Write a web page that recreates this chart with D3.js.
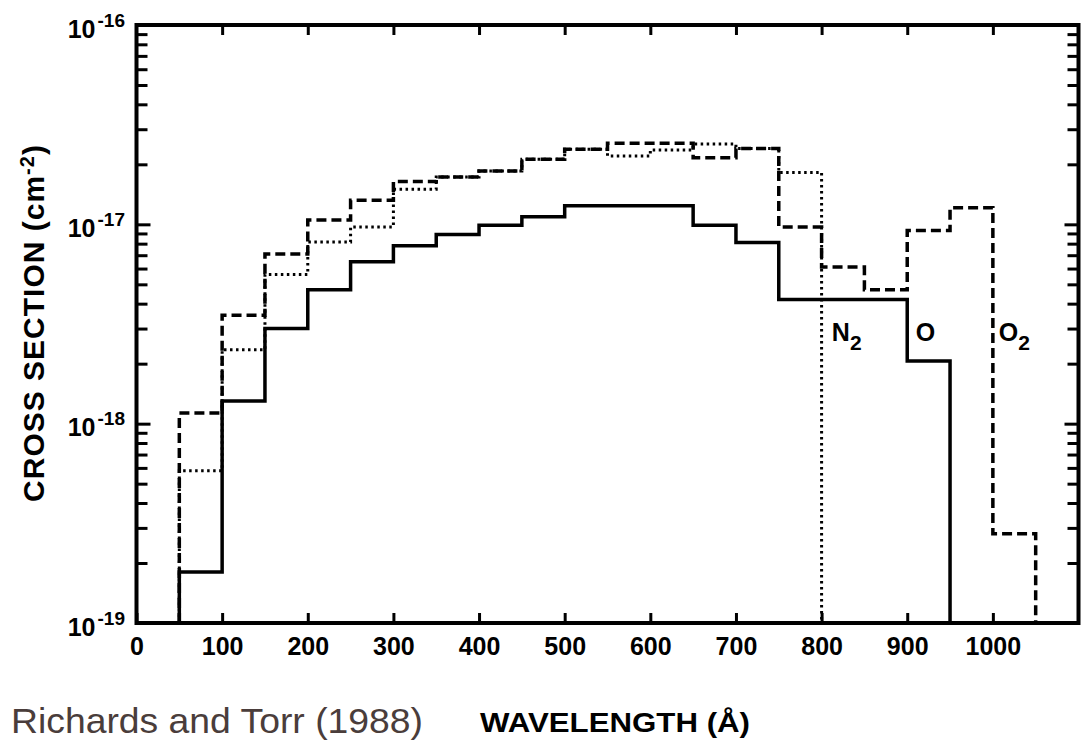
<!DOCTYPE html>
<html><head><meta charset="utf-8">
<script src="https://cdn.jsdelivr.net/npm/d3@7"></script>
<style>body{margin:0;background:#fff}svg{display:block}</style>
</head><body>
<svg id="chart" width="1090" height="742"></svg>
<script>
// ---- data ----
const xTickValues = [0,100,200,300,400,500,600,700,800,900,1000];
const yDecades = [1e-19,1e-18,1e-17,1e-16];
const yExponentLabels = ["-19","-18","-17","-16"];
const binWidth = 50;
// O (solid)
const oBinStarts = [50,100,150,200,250,300,350,400,450,500,550,600,650,700,750,800,850,900];
const oValues = [1.8e-19,1.3e-18,3.0e-18,4.7e-18,6.5e-18,7.8e-18,8.9e-18,9.9e-18,1.09e-17,1.24e-17,1.24e-17,1.24e-17,9.9e-18,8.1e-18,4.2e-18,4.2e-18,4.2e-18,2.06e-18];
// O2 (dashed)
const o2BinStarts = [50,100,150,200,250,300,350,400,450,500,550,600,650,700,750,800,850,900,950,1000];
const o2Values = [1.13e-18,3.5e-18,7.1e-18,1.05e-17,1.32e-17,1.64e-17,1.73e-17,1.85e-17,2.12e-17,2.38e-17,2.55e-17,2.55e-17,2.16e-17,2.4e-17,9.7e-18,6.1e-18,4.7e-18,9.3e-18,1.21e-17,2.8e-19];
// N2 (dotted)
const n2BinStarts = [50,100,150,200,250,300,350,400,450,500,550,600,650,700,750];
const n2Values = [5.8e-19,2.35e-18,5.6e-18,8.15e-18,9.7e-18,1.5e-17,1.73e-17,1.85e-17,2.12e-17,2.38e-17,2.2e-17,2.36e-17,2.53e-17,2.4e-17,1.82e-17];

const svg = d3.select("#chart");
const x = d3.scaleLinear().domain([0,1100]).range([136.5,1078.5]);
const y = d3.scaleLog().domain([1e-19,1e-16]).range([623,25]);
const FONT = "'Liberation Sans', Arial, sans-serif";

// frame
const [x0,x1] = x.range(), [yb,yt] = y.range();
svg.append("rect").attr("x",x0).attr("y",yt).attr("width",x1-x0).attr("height",yb-yt)
  .attr("fill","none").attr("stroke","#000").attr("stroke-width",4);

function styleAxis(g){
  g.select(".domain").remove();
  g.selectAll(".tick line").attr("stroke","#000").attr("stroke-width",3);
}
// bottom axis
svg.append("g").attr("transform",`translate(0,${yb})`)
  .call(d3.axisBottom(x).tickValues(xTickValues).tickSizeInner(-10).tickSizeOuter(0).tickPadding(14).tickFormat(d3.format("d")))
  .call(styleAxis)
  .call(g=>g.selectAll("text").attr("font-family",FONT).attr("font-weight","bold").attr("font-size",25).attr("fill","#000"));
// top axis
svg.append("g").attr("transform",`translate(0,${yt})`)
  .call(d3.axisTop(x).tickValues(xTickValues.slice(1)).tickSizeInner(-10).tickSizeOuter(0).tickFormat(()=>""))
  .call(styleAxis);

const minorTicks = y.ticks().filter(v=>!yDecades.some(d=>Math.abs(Math.log10(v)-Math.log10(d))<1e-6));
// left axis
svg.append("g").attr("transform",`translate(${x0},0)`)
  .call(d3.axisLeft(y).tickValues(minorTicks).tickSizeInner(-11).tickSizeOuter(0).tickFormat(()=>""))
  .call(styleAxis);
const leftMajor = svg.append("g").attr("transform",`translate(${x0},0)`)
  .call(d3.axisLeft(y).tickValues(yDecades).tickSizeInner(-14).tickSizeOuter(0).tickFormat(()=>""))
  .call(styleAxis);
leftMajor.selectAll(".tick").each(function(d){
  const t = d3.select(this);
  t.select("text").remove();
  t.append("text").attr("x",-41).attr("y",12).attr("text-anchor","end")
    .attr("font-family",FONT).attr("font-weight","bold").attr("font-size",25).attr("fill","#000").text("10");
  t.append("text").attr("x",-39).attr("y",1).attr("text-anchor","start")
    .attr("font-family",FONT).attr("font-weight","bold").attr("font-size",19).attr("fill","#000").text(yExponentLabels[yDecades.indexOf(d)]);
});
// right axis
svg.append("g").attr("transform",`translate(${x1},0)`)
  .call(d3.axisRight(y).tickValues(minorTicks).tickSizeInner(-11).tickSizeOuter(0).tickFormat(()=>""))
  .call(styleAxis);
svg.append("g").attr("transform",`translate(${x1},0)`)
  .call(d3.axisRight(y).tickValues(yDecades.slice(1,3)).tickSizeInner(-14).tickSizeOuter(0).tickFormat(()=>""))
  .call(styleAxis);

// step histograms
function stepPoints(starts, values){
  const base = y.domain()[0];
  const pts = [{w:starts[0], v:base}];
  starts.forEach((s,i)=>pts.push({w:s, v:values[i]}));
  pts.push({w:starts[starts.length-1]+binWidth, v:base});
  return pts;
}
const line = d3.line().x(d=>x(d.w)).y(d=>y(d.v)).curve(d3.curveStepAfter);
const plot = svg.append("g");
plot.append("path").datum(stepPoints(n2BinStarts,n2Values)).attr("d",line)
  .attr("fill","none").attr("stroke","#000").attr("stroke-width",3).attr("stroke-dasharray","2.5,3.5");
plot.append("path").datum(stepPoints(o2BinStarts,o2Values)).attr("d",line)
  .attr("fill","none").attr("stroke","#000").attr("stroke-width",3.5).attr("stroke-dasharray","10,5");
plot.append("path").datum(stepPoints(oBinStarts,oValues)).attr("d",line)
  .attr("fill","none").attr("stroke","#000").attr("stroke-width",3.5);

// species labels
function species(w, v, main, sub){
  const t = svg.append("text").attr("x",x(w)).attr("y",y(v))
    .attr("font-family",FONT).attr("font-weight","bold").attr("font-size",25).attr("fill","#000");
  t.append("tspan").text(main);
  if(sub) t.append("tspan").attr("dy",9).attr("font-size",21).text(sub);
}
species(812, 2.6e-18, "N", "2");
species(910, 2.6e-18, "O", "");
species(1007, 2.6e-18, "O", "2");

// axis titles
const yt2 = svg.append("text").attr("transform","translate(44,323) rotate(-90)")
  .attr("text-anchor","middle").attr("font-family",FONT).attr("font-weight","bold")
  .attr("font-size",30).attr("letter-spacing",1).attr("fill","#000");
yt2.append("tspan").text("CROSS SECTION (cm");
yt2.append("tspan").attr("dy",-10).attr("font-size",20).text("-2");
yt2.append("tspan").attr("dy",10).text(")");

svg.append("text").attr("x",480).attr("y",732)
  .attr("font-family",FONT).attr("font-weight","bold").attr("font-size",28)
  .attr("textLength",270).attr("lengthAdjust","spacingAndGlyphs").attr("fill","#000")
  .text("WAVELENGTH (Å)");

svg.append("text").attr("x",11).attr("y",733)
  .attr("font-family",FONT).attr("font-size",35).attr("fill","#4a3d3b")
  .attr("textLength",412).attr("lengthAdjust","spacingAndGlyphs")
  .text("Richards and Torr (1988)");
</script>
</body></html>
